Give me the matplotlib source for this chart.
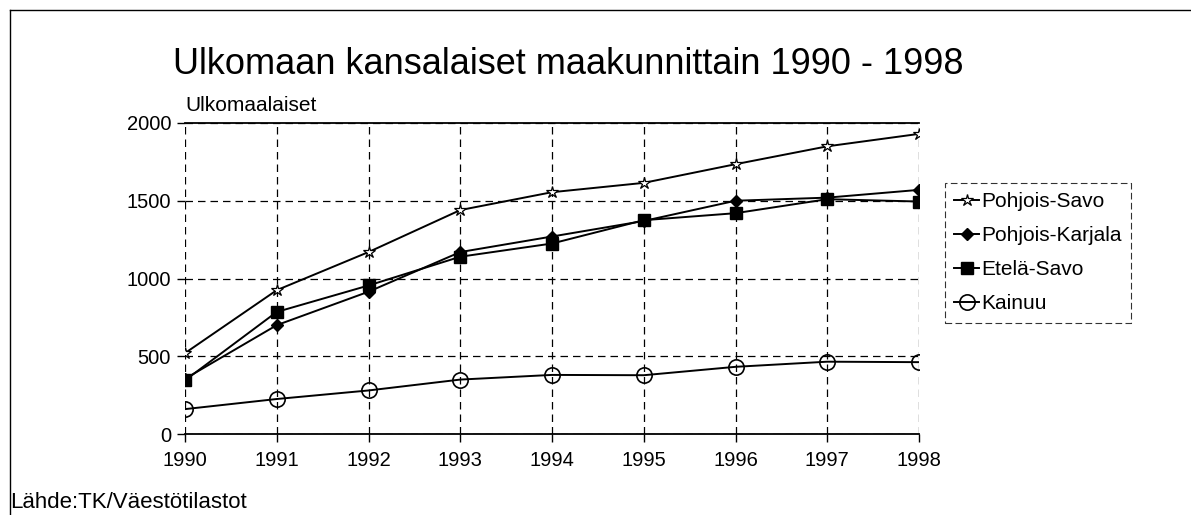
import matplotlib.pyplot as plt
import numpy as np

plt.rcParams['font.family'] = ['Liberation Sans', 'DejaVu Sans']

years = [1990, 1991, 1992, 1993, 1994, 1995, 1996, 1997, 1998]
pohjois_savo = [520, 925, 1170, 1440, 1555, 1615, 1735, 1850, 1930]
pohjois_karjala = [355, 700, 915, 1170, 1270, 1370, 1500, 1520, 1570]
etela_savo = [345, 785, 955, 1140, 1225, 1375, 1420, 1510, 1495]
kainuu = [160, 225, 280, 350, 380, 378, 432, 465, 462]

fig = plt.figure(figsize=(11.91, 5.15), dpi=100)
ax = fig.add_axes([185 / 1191, 1 - 434 / 515, (919 - 185) / 1191, (434 - 123) / 515])

ax.plot(years, pohjois_savo, color='black', lw=1.4, marker='*', ms=9,
        mfc='white', mec='black', mew=0.9, label='Pohjois-Savo')
ax.plot(years, pohjois_karjala, color='black', lw=1.4, marker='D', ms=6,
        mfc='black', mec='black', label='Pohjois-Karjala')
ax.plot(years, etela_savo, color='black', lw=1.4, marker='s', ms=8,
        mfc='black', mec='black', label='Etelä-Savo')
ax.plot(years, kainuu, color='black', lw=1.4, marker='o', ms=11,
        mfc='none', mec='black', mew=1.2, label='Kainuu')

ax.set_xlim(1990, 1998)
ax.set_ylim(0, 2000)
ax.set_xticks(years)
ax.set_yticks([0, 500, 1000, 1500, 2000])
ax.tick_params(axis='both', labelsize=14.5, direction='out', length=6, width=1)
ax.tick_params(axis='x', pad=6)
ax.tick_params(axis='y', pad=4)

for s in ['left', 'right']:
    ax.spines[s].set_visible(False)
ax.spines['bottom'].set_linewidth(1.3)
ax.spines['top'].set_linewidth(1.3)
ax.grid(True, color='black', linestyle=(0, (6, 4)), lw=0.9)
ax.set_axisbelow(True)

ax.text(0, 1.025, 'Ulkomaalaiset', transform=ax.transAxes, fontsize=15,
        ha='left', va='bottom')
fig.text(568 / 1191, 1 - 65 / 515, 'Ulkomaan kansalaiset maakunnittain 1990 - 1998',
         fontsize=26, ha='center', va='center')
fig.text(10 / 1191, 1 - 502 / 515, 'Lähde:TK/Väestötilastot', fontsize=16,
         ha='left', va='center')

leg = fig.legend(loc='upper left', bbox_to_anchor=(945 / 1191, 1 - 183 / 515),
                 fontsize=15, frameon=True, fancybox=False, handlelength=1.2,
                 handletextpad=0.1, borderpad=0.45, labelspacing=0.72,
                 borderaxespad=0)
leg.get_frame().set_edgecolor('black')
leg.get_frame().set_linewidth(0.8)
leg.get_frame().set_linestyle((0, (6, 3)))

fig.add_artist(plt.Line2D([10 / 1191, 10 / 1191], [0, 1 - 10 / 515],
                          color='black', lw=1, transform=fig.transFigure))
fig.add_artist(plt.Line2D([10 / 1191, 1], [1 - 10 / 515, 1 - 10 / 515],
                          color='black', lw=1, transform=fig.transFigure))

fig.savefig('out.png', dpi=100)
